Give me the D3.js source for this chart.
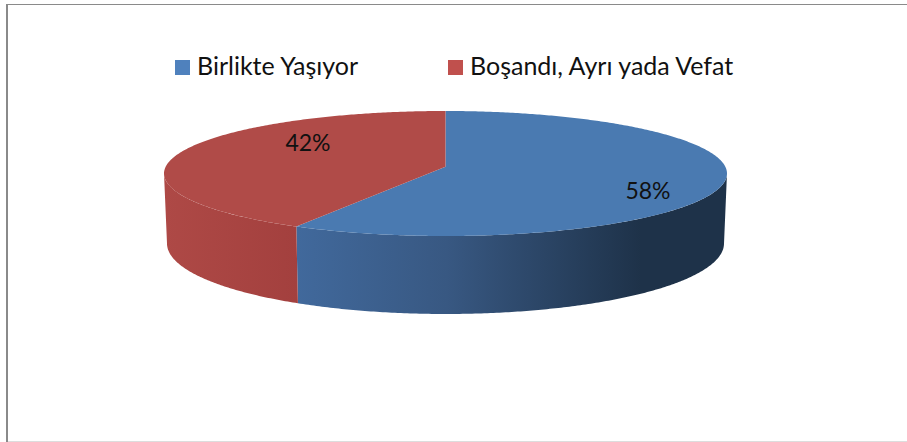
<!DOCTYPE html>
<meta charset="utf-8">
<style>
html, body {
  margin: 0;
  background: #fff;
}
svg {
  display: block;
}
text {
  font-family: Lato, "Noto Sans", sans-serif;
  fill: #111;
}
</style>
<body>
<script src="https://d3js.org/d3.v7.min.js"></script>
<script>
var categories = ["Birlikte Yaşıyor", "Boşandı, Ayrı yada Vefat"];
var values = [58, 42];
var valueLabels = ["58%", "42%"];
var legendColors = ["#4f81bd", "#c0504d"];
var topColors = ["#4a7ab1", "#b04b48"];

var width = 907, height = 442;

// top face and bottom rim of the disc, as ellipses on screen
var topRim = {cx: 445.5, cy: 173.5, rx: 281.5, ry: 62.5};
var bottomRim = {cx: 445.5, cy: 243.5, rx: 278.5, ry: 70.5};
// perspective: the far side of the disc is a bit squeezed
var k = 0.11;

var svg = d3.select("body").append("svg").attr("width", width).attr("height", height);
var defs = svg.append("defs");

function sideGradient(id, x1, x2, stops) {
  var g = defs.append("linearGradient").attr("id", id)
    .attr("gradientUnits", "userSpaceOnUse")
    .attr("x1", x1).attr("x2", x2).attr("y1", 0).attr("y2", 0);
  stops.forEach(function (s) {
    g.append("stop").attr("offset", s[0]).attr("stop-color", s[1]);
  });
}
sideGradient("side0", 296, 727, [[0, "#41699c"], [0.35, "#385882"], [0.8, "#1e3249"], [1, "#1e3249"]]);
sideGradient("side1", 164, 298, [[0, "#ae4946"], [1, "#a3403e"]]);

// frame of the chart
svg.append("line").attr("x1", 7).attr("x2", 7).attr("y1", 4).attr("y2", 442)
  .attr("stroke", "#8a8a8a").attr("stroke-width", 2);
svg.append("line").attr("x1", 6).attr("x2", width).attr("y1", 4.5).attr("y2", 4.5)
  .attr("stroke", "#8a8a8a").attr("stroke-width", 1);
svg.append("line").attr("x1", 8).attr("x2", width).attr("y1", 441.5).attr("y2", 441.5)
  .attr("stroke", "#ddd").attr("stroke-width", 1);

// angle on the disc -> point on screen
function project(rim, a) {
  var u = Math.sin(a), v = Math.cos(a);
  var d = 1 + k * v;
  return [
    rim.cx + rim.rx * Math.sqrt(1 - k * k) * u / d,
    rim.cy + rim.ry * ((1 - k * k) * (-v / d) - k)
  ];
}

function sample(rim, a0, a1) {
  var n = Math.max(2, Math.ceil(Math.abs(a1 - a0) / 0.01));
  return d3.range(n + 1).map(function (i) {
    return project(rim, a0 + (a1 - a0) * i / n);
  });
}

var line = d3.line();
var arcs = d3.pie().sort(null)(values);
var edge = Math.acos(-k); // where the side wall starts to show
var full = 2 * Math.PI;

// side walls
arcs.forEach(function (d, i) {
  var a0 = Math.max(d.startAngle, edge);
  var a1 = Math.min(d.endAngle, full - edge);
  var pts = sample(topRim, a0, a1).concat(sample(bottomRim, a1, a0));
  svg.append("path").attr("d", line(pts) + "Z").attr("fill", "url(#side" + i + ")");
});

// top face
var centre = [topRim.cx, topRim.cy - k * topRim.ry];
arcs.forEach(function (d, i) {
  var pts = [centre].concat(sample(topRim, d.startAngle, d.endAngle));
  svg.append("path").attr("d", line(pts) + "Z").attr("fill", topColors[i]);
});

// value labels
var labelPos = [[648, 190], [308, 142]];
svg.selectAll("text.value").data(valueLabels).enter().append("text")
  .attr("class", "value")
  .attr("x", function (d, i) { return labelPos[i][0]; })
  .attr("y", function (d, i) { return labelPos[i][1]; })
  .attr("text-anchor", "middle")
  .attr("dominant-baseline", "central")
  .style("font-size", "23px")
  .text(function (d) { return d; });

// legend
var legendX = [175, 448];
categories.forEach(function (c, i) {
  svg.append("rect").attr("x", legendX[i]).attr("y", 60).attr("width", 15).attr("height", 15)
    .attr("fill", legendColors[i]);
  svg.append("text").attr("x", legendX[i] + 22).attr("y", 75)
    .style("font-size", "25px")
    .text(c);
});
</script>
</body>
